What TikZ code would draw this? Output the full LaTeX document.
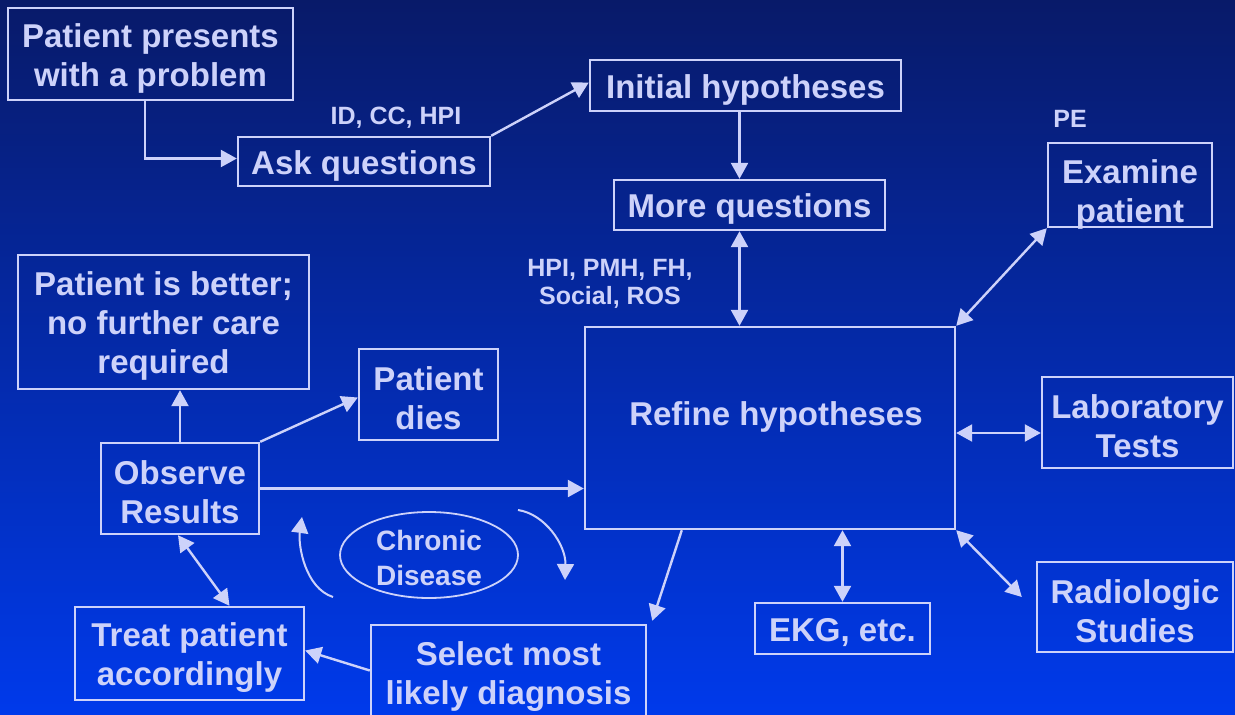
\documentclass[tikz,border=0pt]{standalone}
\usepackage{fontspec}
\setmainfont{Liberation Sans}
\usetikzlibrary{arrows.meta,shapes.geometric}
\definecolor{bgtop}{RGB}{8,26,105}
\definecolor{bgbot}{RGB}{0,58,235}
\definecolor{fg}{RGB}{205,210,250}
\tikzset{
  box/.style={draw=fg, line width=2.4pt, inner sep=0pt},
  boxtext/.style={inner sep=0pt, align=center, text=fg, yshift=-4pt,
    font=\bfseries\fontsize{33}{39}\selectfont},
  tbox/.style={box, label={[boxtext]center:{#1}}},
  smalltxt/.style={inner sep=0pt, align=center, text=fg,
    font=\bfseries\fontsize{25}{28}\selectfont},
  conn/.style={draw=fg, line width=2.4pt},
  >={Triangle[length=16pt,width=17pt]}
}
\begin{document}
\begin{tikzpicture}[x=1pt,y=-1pt]
\useasboundingbox (0,0) rectangle (1235,715);
\clip (0,0) rectangle (1235,715);
\shade[top color=bgtop, bottom color=bgbot] (0,0) rectangle (1235,715);

\node[tbox={Patient presents\\with a problem}, minimum width=285pt, minimum height=92pt] (pp) at (150.5,54) {};
\node[tbox={Ask questions}, minimum width=252pt, minimum height=49pt] (ask) at (364,161.5) {};
\node[tbox={Initial hypotheses}, minimum width=311pt, minimum height=51pt] (init) at (745.5,85.5) {};
\node[tbox={More questions}, minimum width=271pt, minimum height=50pt] (more) at (749.5,205) {};
\node[box, label={[boxtext, yshift=-5pt]center:{Examine\\patient}}, minimum width=164pt, minimum height=84pt] (exam) at (1130,185) {};
\node[tbox={Patient is better;\\no further care\\required}, minimum width=291pt, minimum height=134pt] (better) at (163.5,322) {};
\node[tbox={Patient\\dies}, minimum width=139pt, minimum height=91pt] (dies) at (428.5,394.5) {};
\node[box, label={[boxtext, xshift=6pt, yshift=15pt]center:{Refine hypotheses}}, minimum width=370pt, minimum height=202pt] (refine) at (770,428) {};
\node[tbox={Laboratory\\Tests}, minimum width=191pt, minimum height=91pt] (lab) at (1137.5,422.5) {};
\node[tbox={Observe\\Results}, minimum width=158pt, minimum height=91pt] (obs) at (180,488.5) {};
\node[box, ellipse, line width=1.8pt, minimum width=178pt, minimum height=86pt,
  label={[boxtext, yshift=1pt, font=\bfseries\fontsize{28}{35}\selectfont]center:{Chronic\\Disease}}] (chron) at (429,555) {};
\node[tbox={Treat patient\\accordingly}, minimum width=229pt, minimum height=93pt] (treat) at (189.5,653.5) {};
\node[tbox={Select most\\likely diagnosis}, minimum width=275pt, minimum height=95pt] (sel) at (508.5,672.5) {};
\node[tbox={EKG, etc.}, minimum width=175pt, minimum height=51pt] (ekg) at (842.5,628.5) {};
\node[tbox={Radiologic\\Studies}, minimum width=196pt, minimum height=90pt] (radio) at (1135,607) {};

\node[smalltxt] (lid) at (396,118) {ID, CC, HPI};
\node[smalltxt] (lpe) at (1070,119) {PE};
\node[smalltxt] (lhpi) at (610,284) {HPI, PMH, FH,\\Social, ROS};

\coordinate (c1s) at (333,597);
\coordinate (c1e) at (302,517);
\coordinate (c2s) at (518,510);
\coordinate (c2e) at (565,580);

\draw[conn,->] ([xshift=-5.5pt]pp.south) |- ([yshift=3pt]ask.west);
\draw[conn,->] (ask.north east) -- ([yshift=3pt]init.west);
\draw[conn,->] ([xshift=-6pt]init.south) -- ([xshift=-6pt]init.south |- more.north);
\draw[conn,<->] ([xshift=-10pt]more.south) -- ([xshift=-10pt]more.south |- refine.north);
\draw[conn,<->] (refine.north east) -- (exam.south west);
\draw[conn,<->] ([yshift=-5pt]refine.east) -- ([yshift=-5pt]refine.east -| lab.west);
\draw[conn,<->] (refine.south east) -- ([xshift=-14pt,yshift=10pt]radio.west);
\draw[conn,<->] (ekg.north) -- (ekg.north |- refine.south);
\draw[conn,->] ([xshift=98pt]refine.south west) -- ([xshift=5pt,yshift=3pt]sel.north east);
\draw[conn,->] ([yshift=2pt]sel.west) -- ([yshift=3pt]treat.east);
\draw[conn,<->] ([xshift=40pt]treat.north) -- ([xshift=-2pt]obs.south);
\draw[conn,->] (obs.north) -- (obs.north |- better.south);
\draw[conn,->] (obs.north east) -- ([yshift=-3pt]dies.west);
\draw[conn,->] (obs.east) -- (obs.east -| refine.west);
\draw[conn,->,line width=2pt] (c1s) .. controls (305,588) and (298,545) .. (c1e);
\draw[conn,->,line width=2pt] (c2s) .. controls (545,514) and (566,545) .. (c2e);
\end{tikzpicture}
\end{document}
